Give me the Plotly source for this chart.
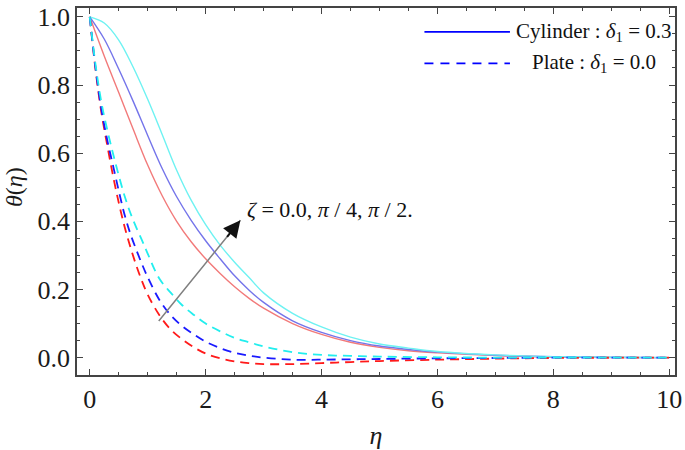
import plotly.graph_objects as go

# ---- data ----
eta_solid = [0, 0.25, 0.5, 0.75, 1.0, 1.25, 1.5, 1.75, 2.0, 2.25, 2.5, 2.75, 3.0, 3.5, 4.0, 4.5, 5.0, 5.5, 6.0, 7.0, 8.0, 9.0, 10.0]
cyl_red  = [1.0, 0.885, 0.778, 0.67, 0.565, 0.475, 0.40, 0.34, 0.29, 0.247, 0.208, 0.174, 0.145, 0.10, 0.068, 0.045, 0.03, 0.02, 0.014, 0.006, 0.002, 0.0005, 0.0]
cyl_blue = [1.0, 0.935, 0.847, 0.752, 0.652, 0.555, 0.472, 0.403, 0.343, 0.29, 0.24, 0.198, 0.162, 0.108, 0.074, 0.05, 0.034, 0.024, 0.016, 0.007, 0.0025, 0.0008, 0.0]
cyl_cyan = [1.0, 0.982, 0.932, 0.852, 0.758, 0.655, 0.55, 0.462, 0.39, 0.33, 0.28, 0.235, 0.19, 0.13, 0.09, 0.06, 0.04, 0.028, 0.018, 0.008, 0.003, 0.001, 0.0]

eta_dash = [0, 0.1, 0.2, 0.3, 0.4, 0.5, 0.6, 0.7, 0.8, 0.9, 1.0, 1.2, 1.4, 1.6, 1.8, 2.0, 2.25, 2.5, 2.75, 3.0, 3.5, 4.0, 4.5, 5.0, 6.0, 7.0, 8.0, 10.0]
pla_red  = [1.0, 0.845, 0.72, 0.625, 0.535, 0.455, 0.385, 0.325, 0.272, 0.225, 0.185, 0.125, 0.082, 0.053, 0.03, 0.012, -0.002, -0.011, -0.016, -0.019, -0.019, -0.016, -0.013, -0.01, -0.006, -0.003, -0.001, 0.0]
pla_blue = [1.0, 0.85, 0.73, 0.64, 0.565, 0.49, 0.42, 0.364, 0.318, 0.275, 0.236, 0.17, 0.124, 0.092, 0.068, 0.047, 0.028, 0.014, 0.006, 0.0, -0.006, -0.006, -0.005, -0.004, -0.002, -0.001, 0.0, 0.0]
pla_cyan = [1.0, 0.86, 0.75, 0.67, 0.6, 0.535, 0.475, 0.425, 0.383, 0.345, 0.305, 0.232, 0.19, 0.153, 0.125, 0.1, 0.077, 0.058, 0.045, 0.033, 0.016, 0.008, 0.005, 0.003, 0.001, 0.0, 0.0, 0.0]

x_ticks = [0, 2, 4, 6, 8, 10]
y_ticks = [0.0, 0.2, 0.4, 0.6, 0.8, 1.0]

FONT = "Liberation Serif, Times New Roman, DejaVu Serif, serif"
AX = "#444444"

fig = go.Figure()

for y, c in [(cyl_red, "#f27a7a"), (cyl_blue, "#7474ea"), (cyl_cyan, "#6ef2f2")]:
    fig.add_trace(go.Scatter(x=eta_solid, y=y, mode="lines",
                             line=dict(color=c, width=1.4, shape="spline"),
                             showlegend=False, hoverinfo="skip"))
for y, c in [(pla_red, "#ff1a1a"), (pla_blue, "#1a1aff"), (pla_cyan, "#22eeee")]:
    fig.add_trace(go.Scatter(x=eta_dash, y=y, mode="lines",
                             line=dict(color=c, width=1.8, shape="spline", dash="9px,6px"),
                             showlegend=False, hoverinfo="skip"))

axis_common = dict(showline=True, linecolor=AX, linewidth=1.5, mirror="ticks",
                   ticks="inside", ticklen=6, tickwidth=1.2, tickcolor=AX,
                   showgrid=False, zeroline=False, ticklabeloverflow="allow",
                   tickfont=dict(family=FONT, size=26, color="#1a1a1a"))

fig.update_xaxes(range=[-0.22, 10.1], tickvals=x_ticks,
                 ticktext=[str(v) for v in x_ticks],
                 minor=dict(dtick=0.5, tick0=0, ticks="inside", ticklen=3.5, tickcolor=AX, tickwidth=1),
                 title=dict(text="<i>η</i>", font=dict(family=FONT, size=26, color="#1a1a1a"), standoff=14),
                 **axis_common)
fig.update_yaxes(range=[-0.051, 1.026], tickvals=y_ticks,
                 ticktext=[f"{v:.1f}" for v in y_ticks],
                 minor=dict(dtick=0.05, tick0=0, ticks="inside", ticklen=3.5, tickcolor=AX, tickwidth=1),
                 **axis_common)

# y-axis title
fig.add_annotation(xref="paper", yref="paper", x=-0.105, y=0.513, xanchor="center", yanchor="middle",
                   text="<i>θ</i>(<i>η</i>)", textangle=-90, showarrow=False,
                   font=dict(family=FONT, size=24, color="#1a1a1a"))

# legend drawn manually (long sample lines like the reference)
fig.add_shape(type="line", xref="paper", yref="paper", x0=0.581, x1=0.724, y0=0.935, y1=0.935,
              line=dict(color="#0000ff", width=1.6))
fig.add_shape(type="line", xref="paper", yref="paper", x0=0.581, x1=0.724, y0=0.849, y1=0.849,
              line=dict(color="#0000ff", width=1.6, dash="9px,7px"))
fig.add_annotation(xref="paper", yref="paper", x=0.864, y=0.935, xanchor="center", yanchor="middle",
                   text="Cylinder : <i>δ</i><sub>1</sub> = 0.3", showarrow=False,
                   font=dict(family=FONT, size=21, color="#111111"))
fig.add_annotation(xref="paper", yref="paper", x=0.864, y=0.849, xanchor="center", yanchor="middle",
                   text="Plate : <i>δ</i><sub>1</sub> = 0.0", showarrow=False,
                   font=dict(family=FONT, size=21, color="#111111"))

# arrow: gray shaft with black head
fig.add_annotation(x=2.6, y=0.403, ax=1.17, ay=0.103, xref="x", yref="y", axref="x", ayref="y",
                   showarrow=True, arrowhead=0, arrowwidth=1.5, arrowcolor="#808080", text="")
fig.add_annotation(x=2.6, y=0.403, ax=2.35, ay=0.35, xref="x", yref="y", axref="x", ayref="y",
                   showarrow=True, arrowhead=2, arrowsize=1.7, arrowwidth=2, arrowcolor="#111111", text="")
fig.add_annotation(x=2.68, y=0.435, xref="x", yref="y", xanchor="left", yanchor="middle",
                   text="<i>ζ</i> = 0.0, <i>π</i> / 4, <i>π</i> / 2.", showarrow=False,
                   font=dict(family=FONT, size=22, color="#111111"))

fig.update_layout(width=685, height=450, margin=dict(l=77, r=7, t=3, b=75),
                  paper_bgcolor="white", plot_bgcolor="white", showlegend=False,
                  font=dict(family=FONT))

fig.write_html("out.html", config={"displayModeBar": False},
               post_script="document.body.style.margin='0px';")
